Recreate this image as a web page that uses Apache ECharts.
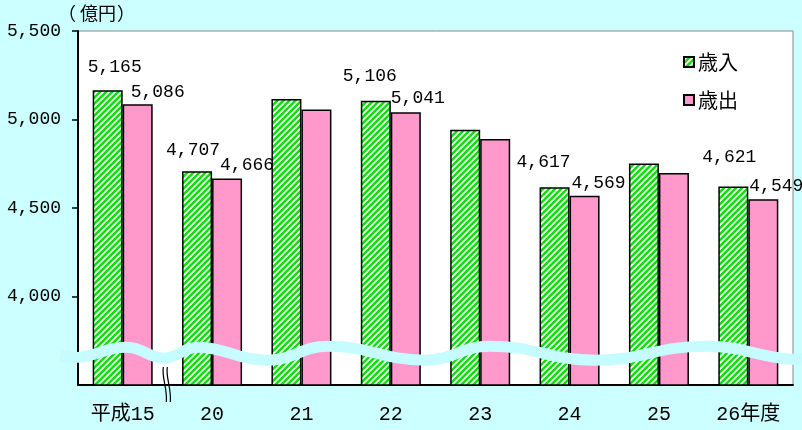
<!DOCTYPE html>
<html>
<head>
<meta charset="utf-8">
<script src="https://cdn.jsdelivr.net/npm/echarts@6/dist/echarts.min.js"></script>
<style>
html,body{margin:0;padding:0;background:#ccffff;}
#main{width:802px;height:430px;}
</style>
</head>
<body>
<div id="main"></div>
<script>
// ---- data ----
const categories = ['平成15', '20', '21', '22', '23', '24', '25', '26年度'];
const revenue = [5165, 4707, 5116, 5106, 4942, 4617, 4751, 4621];      // 歳入
const expenditure = [5086, 4666, 5057, 5041, 4890, 4569, 4698, 4549];  // 歳出
const labelled = [true, true, false, true, false, true, false, true];
const yTicks = [4000, 4500, 5000, 5500];
const seriesNames = ['歳入', '歳出'];
const unitParts = ['（', '億円', '）'];

// ---- layout / style (not data) ----
const G = {left: 78, top: 31, right: 9, bottom: 45};
const W = 802, H = 430;
const revLabelOffset = [[7, -9], [-4, -7], [0, 0], [-6, -11], [0, 0], [-11, -11], [0, 0], [-4, -15]];
const expLabelOffset = [[20, 2], [20, 1], [0, 0], [12, 0], [0, 0], [14, 1], [0, 0], [13, 1]];
// decorative axis-break wave: [x pixel, y offset from break centre]
const wavePath = [[60, 2], [80, 4], [127, -6], [164, 5], [198, -6], [268, 7], [328, -7], [425, 7], [490, -7], [595, 7], [705, -7], [790, 6], [812, 3]];
const FONT = '"Liberation Mono", "Noto Sans CJK JP", monospace';
const JFONT = '"Noto Sans CJK JP", sans-serif';

function hatch() {
  const c = document.createElement('canvas');
  c.width = 6; c.height = 6;
  const g = c.getContext('2d');
  g.fillStyle = '#ffffff';
  g.fillRect(0, 0, 6, 6);
  g.strokeStyle = '#11dd11';
  g.lineWidth = 2.6;
  g.beginPath();
  for (let k = -2; k <= 2; k++) {
    g.moveTo(k * 6 - 1, 7);
    g.lineTo(k * 6 + 7, -1);
  }
  g.stroke();
  return c;
}

const chart = echarts.init(document.getElementById('main'), null, {renderer: 'canvas'});

function mk(values, offsets) {
  return values.map((v, i) => ({
    value: v,
    label: labelled[i] ? {show: true, offset: offsets[i]} : {show: false}
  }));
}

const option = {
  backgroundColor: '#ccffff',
  animation: false,
  grid: {left: G.left, top: G.top, right: G.right, bottom: G.bottom, show: true,
         backgroundColor: '#ffffff', borderColor: '#888888', borderWidth: 1},
  legend: {
    orient: 'vertical', left: 678, top: 47, itemWidth: 10, itemHeight: 10, itemGap: 18,
    icon: 'rect',
    textStyle: {fontFamily: JFONT, fontSize: 20, color: '#000', padding: [0, 0, 0, -1]},
    data: seriesNames
  },
  xAxis: {
    type: 'category', data: categories,
    axisLine: {lineStyle: {color: '#000', width: 2}},
    axisTick: {inside: true, length: 8, lineStyle: {color: '#000', width: 1.5},
               interval: function (idx) { return idx >= 2; }},
    axisLabel: {color: '#000', fontFamily: FONT, fontSize: 20, margin: 20}
  },
  yAxis: {
    type: 'value', min: 3500, max: 5500, interval: 500,
    splitLine: {show: false},
    axisLine: {show: true, lineStyle: {color: '#000', width: 2}},
    axisTick: {show: true, length: 6, customValues: yTicks, lineStyle: {color: '#000', width: 1.5}},
    axisLabel: {color: '#000', fontFamily: FONT, fontSize: 18, margin: 17, customValues: yTicks,
                padding: [4, 0, 0, 0],
                formatter: v => v.toLocaleString('en-US')}
  },
  series: [
    {
      name: seriesNames[0], type: 'bar', barWidth: 30, barGap: '0%',
      data: mk(revenue, revLabelOffset),
      itemStyle: {color: {image: hatch(), repeat: 'repeat'}, borderColor: '#000', borderWidth: 1.5},
      label: {position: 'top', distance: 5, color: '#000', fontFamily: FONT, fontSize: 18,
              formatter: p => p.value.toLocaleString('en-US')}
    },
    {
      name: seriesNames[1], type: 'bar', barWidth: 30,
      data: mk(expenditure, expLabelOffset),
      itemStyle: {color: '#ff99cc', borderColor: '#000', borderWidth: 1.5},
      label: {position: 'top', distance: 5, color: '#000', fontFamily: FONT, fontSize: 18,
              formatter: p => p.value.toLocaleString('en-US')}
    }
  ]
};
chart.setOption(option);

// decorations: axis break wave, break marks, unit
const yc = chart.convertToPixel({yAxisIndex: 0}, 3680);
const pts = wavePath.map(p => [p[0], yc + p[1]]);
const bx = (chart.convertToPixel({xAxisIndex: 0}, 0) + chart.convertToPixel({xAxisIndex: 0}, 1)) / 2;
const yb = H - G.bottom;
const unitStyle = {fontFamily: JFONT, fontSize: 18, fill: '#000'};
chart.setOption({
  graphic: [
    {type: 'polyline', z: 100, shape: {points: pts, smooth: 0.45},
     style: {stroke: '#c6fcff', lineWidth: 11, fill: null}},
    {type: 'bezierCurve', z: 101, shape: {x1: bx - 4, y1: yb - 18, cpx1: bx - 6, cpy1: yb - 8, cpx2: bx, cpy2: yb + 2, x2: bx - 1, y2: yb + 17},
     style: {stroke: '#000', lineWidth: 1.2, fill: null}},
    {type: 'bezierCurve', z: 101, shape: {x1: bx, y1: yb - 18, cpx1: bx - 2, cpy1: yb - 8, cpx2: bx + 4, cpy2: yb + 2, x2: bx + 3, y2: yb + 17},
     style: {stroke: '#000', lineWidth: 1.2, fill: null}},
    {type: 'text', x: 58, y: 4, z: 100, style: Object.assign({text: unitParts[0]}, unitStyle)},
    {type: 'text', x: 80, y: 4, z: 100, style: Object.assign({text: unitParts[1]}, unitStyle)},
    {type: 'text', x: 117, y: 4, z: 100, style: Object.assign({text: unitParts[2]}, unitStyle)}
  ]
});
</script>
</body>
</html>
